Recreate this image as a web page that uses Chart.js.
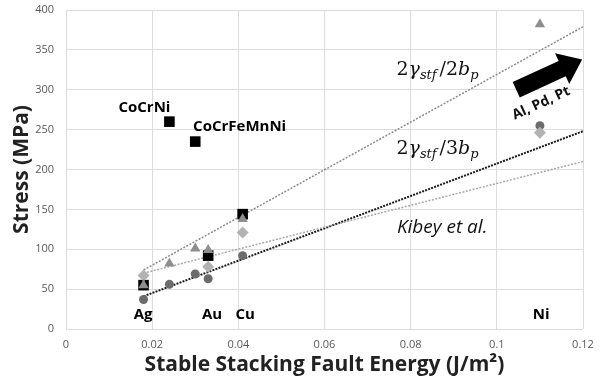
<!DOCTYPE html>
<html>
<head>
<meta charset="utf-8">
<script src="https://cdn.jsdelivr.net/npm/chart.js@4/dist/chart.umd.min.js"></script>
<style>
html,body{margin:0;padding:0;background:#fff;}
#wrap{width:600px;height:387px;position:relative;}
</style>
</head>
<body>
<div id="wrap"><canvas id="c" width="600" height="387"></canvas></div>
<script>
// ---- data ----
const xTicks = [0, 0.02, 0.04, 0.06, 0.08, 0.1, 0.12];
const yTicks = [0, 50, 100, 150, 200, 250, 300, 350, 400];

const triX = [0.018, 0.024, 0.030, 0.033, 0.041, 0.110];
const triY = [55, 82, 101, 99, 138, 382];
const cirX = [0.018, 0.024, 0.030, 0.033, 0.041, 0.110];
const cirY = [37, 56, 69, 63, 92, 255];
const diaX = [0.018, 0.033, 0.041, 0.110];
const diaY = [67, 78, 121, 246];
const sqX = [0.018, 0.033, 0.041, 0.024, 0.030];
const sqY = [55, 92, 144, 260, 235];

const fitX = [0.018, 0.12];
const fit2bY = [74, 379];
const fit3bY = [41, 248];
const kibeyY = [70, 210];

const pts = (xs, ys) => xs.map((x, i) => ({x: x, y: ys[i]}));

// ---- annotations plugin ----
const annot = {
  id: 'annot',
  afterDatasetsDraw(chart) {
    const ctx = chart.ctx, xs = chart.scales.x, ys = chart.scales.y;
    const P = (x, y) => [xs.getPixelForValue(x), ys.getPixelForValue(y)];
    ctx.save();
    ctx.fillStyle = '#000';
    ctx.textBaseline = 'middle';
    const bold = 'bold 15px "Open Sans", sans-serif';
    const lab = (t, x, y, align) => {
      const [px, py] = P(x, y);
      ctx.font = bold; ctx.textAlign = align; ctx.fillText(t, px, py);
    };
    lab('CoCrNi', 0.0182, 277.5, 'center');
    lab('CoCrFeMnNi', 0.0295, 254, 'left');
    lab('Ag', 0.0179, 17.5, 'center');
    lab('Au', 0.0339, 17.5, 'center');
    lab('Cu', 0.0416, 17.5, 'center');
    lab('Ni', 0.1103, 17.5, 'center');

    // Kibey et al.
    {
      const [px, py] = P(0.0768, 127.5);
      ctx.font = 'italic 19px "Open Sans", sans-serif';
      ctx.textAlign = 'left'; ctx.fillStyle = '#111';
      ctx.fillText('Kibey et al.', px, py);
    }
    // math labels
    const math = (den, x, y) => {
      let [px, py] = P(x, y);
      ctx.textBaseline = 'alphabetic'; ctx.textAlign = 'left'; ctx.fillStyle = '#111';
      const seg = (t, f, dy) => { ctx.font = f; ctx.fillText(t, px, py + dy); px += ctx.measureText(t).width; };
      const big = '19px "DejaVu Serif", serif';
      const bigI = 'italic 19px "DejaVu Serif", serif';
      const sub = 'italic 13px "DejaVu Serif", serif';
      seg('2', big, 0);
      seg('γ', bigI, 0);
      seg('stf', sub, 4);
      px += 3;
      seg('/' + den, big, 0);
      seg('b', bigI, 0);
      seg('p', sub, 4);
    };
    math('2', 0.0767, 319);
    math('3', 0.0767, 219);

    // arrow
    {
      const [x1, y1] = P(0.1045, 300);
      const [x2, y2] = P(0.1198, 338);
      const ang = Math.atan2(y2 - y1, x2 - x1);
      const len = Math.hypot(x2 - x1, y2 - y1);
      ctx.save();
      ctx.translate(x1, y1); ctx.rotate(ang);
      ctx.fillStyle = '#000';
      ctx.beginPath();
      const hl = 22, sw = 8.5, hw = 17;
      ctx.moveTo(0, -sw); ctx.lineTo(len - hl, -sw); ctx.lineTo(len - hl, -hw);
      ctx.lineTo(len, 0); ctx.lineTo(len - hl, hw); ctx.lineTo(len - hl, sw);
      ctx.lineTo(0, sw); ctx.closePath(); ctx.fill();
      ctx.restore();
      const [tx, ty] = P(0.1103, 283);
      ctx.save();
      ctx.translate(tx, ty); ctx.rotate(ang);
      ctx.font = 'bold 14px "Open Sans", sans-serif';
      ctx.textAlign = 'center'; ctx.textBaseline = 'middle';
      ctx.fillText('Al, Pd, Pt', 0, 0);
      ctx.restore();
    }
    ctx.restore();
  }
};

const fitDs = (ys, color, w, dash) => ({
  type: 'line', data: pts(fitX, ys), borderColor: color, borderWidth: w,
  borderDash: dash, pointRadius: 0, fill: false, order: 10, showLine: true
});

new Chart(document.getElementById('c'), {
  type: 'scatter',
  data: {
    datasets: [
      fitDs(fit2bY, '#8a8a8a', 1.5, [2, 1.5]),
      fitDs(kibeyY, '#a8a8a8', 1.5, [2, 1.5]),
      fitDs(fit3bY, '#1a1a1a', 2, [2, 1.2]),
      { data: pts(sqX, sqY), pointStyle: 'rect', pointRadius: 7.5, backgroundColor: '#000', borderColor: '#000', borderWidth: 0, order: 5 },
      { data: pts(cirX, cirY), pointStyle: 'circle', pointRadius: 4.5, backgroundColor: '#6b6b6b', borderColor: '#6b6b6b', borderWidth: 0, order: 4 },
      { data: pts(diaX, diaY), pointStyle: 'rectRot', pointRadius: 6, backgroundColor: '#b2b2b2', borderColor: '#b2b2b2', borderWidth: 0, order: 3 },
      { data: pts(triX, triY), pointStyle: 'triangle', pointRadius: 6, backgroundColor: '#8e8e8e', borderColor: '#8e8e8e', borderWidth: 0, order: 2 }
    ]
  },
  options: {
    responsive: false, animation: false, devicePixelRatio: 1,
    layout: { autoPadding: false, padding: { top: 10, right: 17, left: 0, bottom: 0 } },
    plugins: { legend: { display: false }, tooltip: { enabled: false } },
    scales: {
      x: {
        type: 'linear', min: 0, max: 0.12,
        afterFit(s) { s.height = 58; s.paddingLeft = 0; s.paddingRight = 0; },
        afterBuildTicks(s) { s.ticks = xTicks.map(v => ({value: v})); },
        grid: { color: '#dcdcdc', drawTicks: false, lineWidth: 1 },
        border: { display: false },
        ticks: { padding: 9, color: '#595959', font: { size: 11, family: '"Open Sans", sans-serif' },
          callback: v => String(+v.toFixed(2)) },
        title: { display: true, text: 'Stable Stacking Fault Energy (J/m²)', color: '#222',
          font: { size: 21, weight: 'bold', family: '"Open Sans", sans-serif' }, padding: { top: 4, bottom: 9 } }
      },
      y: {
        type: 'linear', min: 0, max: 400,
        afterFit(s) { s.width = 66; s.paddingTop = 0; s.paddingBottom = 0; },
        afterBuildTicks(s) { s.ticks = yTicks.map(v => ({value: v})); },
        grid: { color: '#dcdcdc', drawTicks: false, lineWidth: 1 },
        border: { display: false },
        ticks: { padding: 12, color: '#595959', font: { size: 11, family: '"Open Sans", sans-serif' } },
        title: { display: true, text: 'Stress (MPa)', color: '#222',
          font: { size: 21, weight: 'bold', family: '"Open Sans", sans-serif' }, padding: { top: 9, bottom: 4 } }
      }
    }
  },
  plugins: [annot]
});
</script>
</body>
</html>
